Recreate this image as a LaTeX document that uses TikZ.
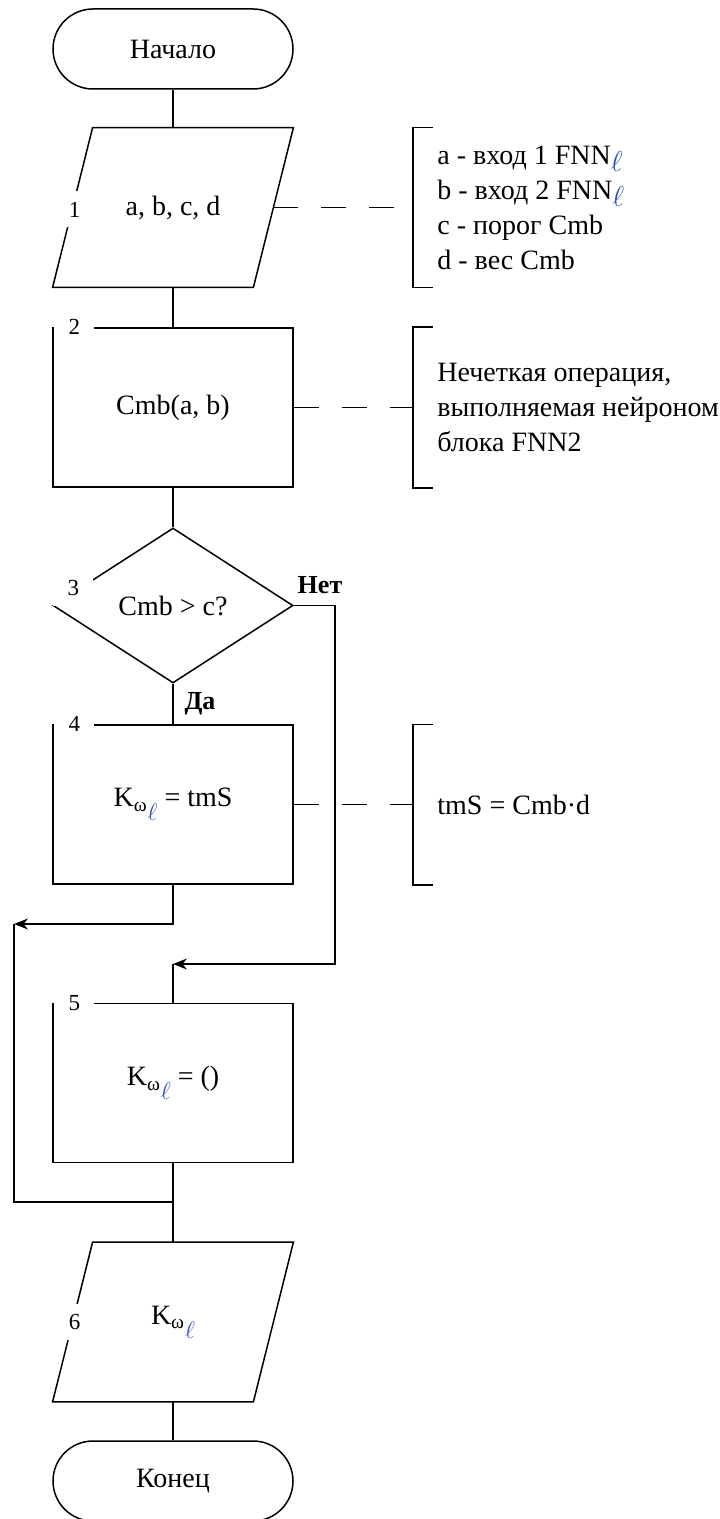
\documentclass[tikz,border=0pt]{standalone}
\usepackage{fontspec}
\setmainfont{Liberation Serif}
\usetikzlibrary{positioning, arrows.meta, shapes.geometric, calc}

\definecolor{ellblue}{RGB}{40,80,190}
\newcommand{\ellsub}{\textcolor{ellblue}{$\ell$}}
\newcommand{\FNNl}{FNN\raisebox{-3.5pt}{\ellsub}}
\newcommand{\Kwl}{K\textsubscript{ω}\raisebox{-7pt}{\fontsize{12}{12}\selectfont\ellsub}}

\tikzset{
  every node/.style={font=\fontsize{14}{16}\selectfont},
  block/.style={draw, line width=0.75pt, minimum width=120pt, inner sep=0pt},
  terminal/.style={block, rounded corners=20pt, minimum height=40pt},
  process/.style={block, minimum height=79.5pt},
  decision/.style={block, diamond, minimum height=77.5pt},
  iobox/.style={minimum width=120pt, minimum height=79.5pt, inner sep=0pt},
  num/.style={fill=white, minimum width=20pt, minimum height=18pt, inner sep=0pt,
              font=\fontsize{11.5}{13}\selectfont},
  line/.style={line width=0.75pt},
  arrow/.style={line, -{Stealth[length=7pt, width=5.5pt]}},
  dashline/.style={line, dash pattern=on 12.5pt off 11.5pt},
  bracket/.style={line},
  note/.style={align=left, inner sep=0pt, font=\fontsize{14}{17.5}\selectfont},
  yesno/.style={font=\fontsize{13}{15}\selectfont\bfseries},
}

\begin{document}
\begin{tikzpicture}[x=0.5pt, y=-0.5pt]
\useasboundingbox (0,0) rectangle (719,1519);

% blocks
\node[terminal] (start) at (173,49) {Начало};
\node[iobox] (in1) at (173,207.5) {a, b, c, d};
\node[process] (p2) at (173,407.5) {Cmb(a, b)};
\node[decision] (dec3) at (173,605.5) {Cmb > c?};
\node[process] (p4) at (173,804.5) {\Kwl{} = tmS};
\node[process] (p5) at (173,1083) {\Kwl{} = ()};
\node[iobox] (out6) at (173,1322) {\Kwl};
\node[terminal] (stop) at (173,1481) {Конец};

\foreach \io in {in1,out6}
  \draw[line] (\io.south west) -- ($(\io.south east)+(-40,0)$) -- (\io.north east)
    -- ($(\io.north west)+(40,0)$) -- cycle;

% block numbers
\node[num] (n1) at ($(in1.west)+(22,2)$) {1};
\node[num] (n2) at ($(p2.north west)+(22,0)$) {2};
\node[num] (n3) at ($(dec3.west)+(21,-18)$) {3};
\node[num] (n4) at ($(p4.north west)+(22,0)$) {4};
\node[num] (n5) at ($(p5.north west)+(22,0)$) {5};
\node[num] (n6) at ($(out6.west)+(22,0)$) {6};

% flow
\coordinate (nojoin) at (173,964);
\coordinate (yesturn) at (14,924);
\coordinate (merge) at (173,1202);

\draw[line] (start.south) -- (in1.north);
\draw[line] (in1.south) -- (p2.north);
\draw[line] (p2.south) -- (dec3.north);
\draw[line] (dec3.south) -- (p4.north);
\draw[arrow] (dec3.east) -- ++(41,0) |- (nojoin);
\draw[line] (nojoin) -- (p5.north);
\draw[arrow] (p4.south) |- (yesturn);
\draw[line] (yesturn) |- (merge);
\draw[line] (p5.south) -- (out6.north);
\draw[line] (out6.south) -- (stop.north);

\node[yesno] (no) at (320,585) {Нет};
\node[yesno] (yes) at (200,704) {Да};

% comments
\coordinate (br1) at (413,207.5);
\coordinate (br2) at (413,407.5);
\coordinate (br4) at (413,804.5);

\draw[dashline] ($(in1.east)+(-20,0)$) -- (br1);
\draw[dashline] (p2.east) -- (br2);
\draw[dashline] (p4.east) -- (br4);

\draw[bracket] (br1 |- in1.north) ++(20,0) -- ++(-20,0) -- (br1 |- in1.south) -- ++(20,0);
\draw[bracket] (br2 |- p2.north) ++(20,0) -- ++(-20,0) -- (br2 |- p2.south) -- ++(20,0);
\draw[bracket] (br4 |- p4.north) ++(20,0) -- ++(-20,0) -- (br4 |- p4.south) -- ++(20,0);

\node[note, anchor=west] (note1) at ($(br1)+(24,0)$)
  {a - вход 1 \FNNl\\b - вход 2 \FNNl\\c - порог Cmb\\d - вес Cmb};
\node[note, anchor=west] (note2) at ($(br2)+(24,0)$)
  {Нечеткая операция,\\выполняемая нейроном\\блока FNN2};
\node[note, anchor=west] (note4) at ($(br4)+(24,0)$) {tmS = Cmb·d};
\end{tikzpicture}
\end{document}
